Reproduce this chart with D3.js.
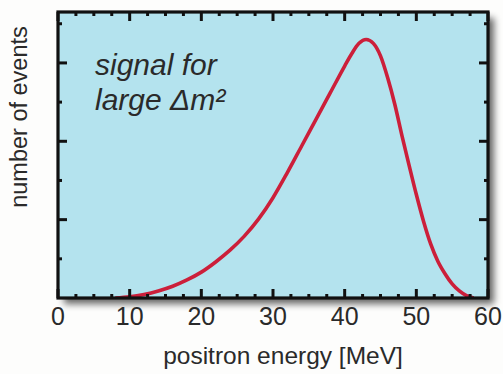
<!DOCTYPE html>
<html>
<head>
<meta charset="utf-8">
<script src="https://cdn.jsdelivr.net/npm/d3@7"></script>
<style>
  html, body { margin: 0; padding: 0; background: #fdfdfc; }
  svg { display: block; }
  text { font-family: "Liberation Sans", Arial, sans-serif; }
</style>
</head>
<body>
<svg id="chart" width="503" height="374"></svg>
<script>
// Expected positron energy spectrum (arbitrary units)
const energy = [8, 10, 12, 14, 16, 18, 20, 22, 24, 26, 28, 30, 32, 34, 36, 38, 40, 41, 42, 43, 44, 45, 46, 47, 48, 49, 50, 51, 52, 53, 54, 55, 56, 57, 58];
const events = [0, 0.015, 0.045, 0.09, 0.15, 0.23, 0.33, 0.46, 0.61, 0.79, 1.01, 1.28, 1.60, 1.94, 2.28, 2.62, 2.96, 3.12, 3.25, 3.30, 3.25, 3.09, 2.81, 2.47, 2.07, 1.69, 1.32, 0.98, 0.69, 0.47, 0.31, 0.18, 0.09, 0.03, 0];

const xTickLabels = ["0", "10", "20", "30", "40", "50", "60"];
const xTitle = "positron energy [MeV]";
const yTitle = "number of events";
const noteLines = ["signal for", "large \u0394m\u00b2"];

const svg = d3.select("#chart");
const plotL = 58, plotR = 488, plotT = 12, plotB = 298;

const x = d3.scaleLinear().domain([0, 60]).range([plotL, plotR]);
const y = d3.scaleLinear().domain([0, 3.65]).range([plotB, plotT]);

// drop shadow for the frame
const defs = svg.append("defs");
const f = defs.append("filter").attr("id", "shadow")
  .attr("x", "-10%").attr("y", "-10%").attr("width", "130%").attr("height", "130%");
f.append("feGaussianBlur").attr("in", "SourceAlpha").attr("stdDeviation", 3.5).attr("result", "b");
f.append("feOffset").attr("in", "b").attr("dx", 6).attr("dy", 6).attr("result", "o");
f.append("feComponentTransfer").attr("in", "o").attr("result", "s")
  .append("feFuncA").attr("type", "linear").attr("slope", 0.6);
const m = f.append("feMerge");
m.append("feMergeNode").attr("in", "s");
m.append("feMergeNode").attr("in", "SourceGraphic");

defs.append("clipPath").attr("id", "plotclip")
  .append("rect").attr("x", plotL).attr("y", plotT).attr("width", plotR - plotL).attr("height", plotB - plotT);

// plot background
svg.append("rect")
  .attr("x", plotL).attr("y", plotT)
  .attr("width", plotR - plotL).attr("height", plotB - plotT)
  .attr("fill", "#b4e3ee")
  .attr("filter", "url(#shadow)");

// note text
const note = svg.append("text")
  .attr("font-size", 30).attr("font-style", "italic")
  .attr("fill", "#2a2a2a");
noteLines.forEach((t, i) => {
  note.append("tspan").attr("x", 95).attr("y", 75 + i * 35).text(t);
});

// spectrum curve
const line = d3.line()
  .x((d, i) => x(energy[i]))
  .y(d => y(d))
  .curve(d3.curveMonotoneX);

svg.append("path")
  .datum(events)
  .attr("clip-path", "url(#plotclip)")
  .attr("d", line)
  .attr("fill", "none")
  .attr("stroke", "#cc1f3a")
  .attr("stroke-width", 3.6)
  .attr("stroke-linejoin", "round");

// ticks (inward on all four sides)
const xMajor = d3.range(0, 61, 10);
const xMinor = d3.range(0, 60.01, 2.5).filter(v => v % 10 !== 0);
const yMajor = [1, 2, 3];
const yMinor = [0.5, 1.5, 2.5, 3.5];

const tickG = svg.append("g").attr("stroke", "#111").attr("stroke-width", 3);

function xTicks(vals, len) {
  vals.forEach(v => {
    tickG.append("line").attr("x1", x(v)).attr("x2", x(v)).attr("y1", plotB).attr("y2", plotB - len);
    tickG.append("line").attr("x1", x(v)).attr("x2", x(v)).attr("y1", plotT).attr("y2", plotT + len);
  });
}
function yTicks(vals, len) {
  vals.forEach(v => {
    tickG.append("line").attr("y1", y(v)).attr("y2", y(v)).attr("x1", plotL).attr("x2", plotL + len);
    tickG.append("line").attr("y1", y(v)).attr("y2", y(v)).attr("x1", plotR).attr("x2", plotR - len);
  });
}
xTicks(xMajor, 9);
xTicks(xMinor, 4);
yTicks(yMajor, 9);
yTicks(yMinor, 4);

// frame
svg.append("rect")
  .attr("x", plotL).attr("y", plotT)
  .attr("width", plotR - plotL).attr("height", plotB - plotT)
  .attr("fill", "none").attr("stroke", "#111").attr("stroke-width", 3.2);

// x tick labels
svg.append("g").selectAll("text")
  .data(xTickLabels)
  .join("text")
  .attr("x", (d, i) => x(xMajor[i]))
  .attr("y", 325)
  .attr("text-anchor", "middle")
  .attr("font-size", 25)
  .attr("fill", "#2a2a2a")
  .text(d => d);

// axis titles
svg.append("text")
  .attr("x", 283).attr("y", 364)
  .attr("text-anchor", "middle")
  .attr("font-size", 24.5)
  .attr("fill", "#2a2a2a")
  .text(xTitle);

svg.append("text")
  .attr("transform", "translate(27,117) rotate(-90)")
  .attr("text-anchor", "middle")
  .attr("font-size", 23.5)
  .attr("fill", "#2a2a2a")
  .text(yTitle);
</script>
</body>
</html>
